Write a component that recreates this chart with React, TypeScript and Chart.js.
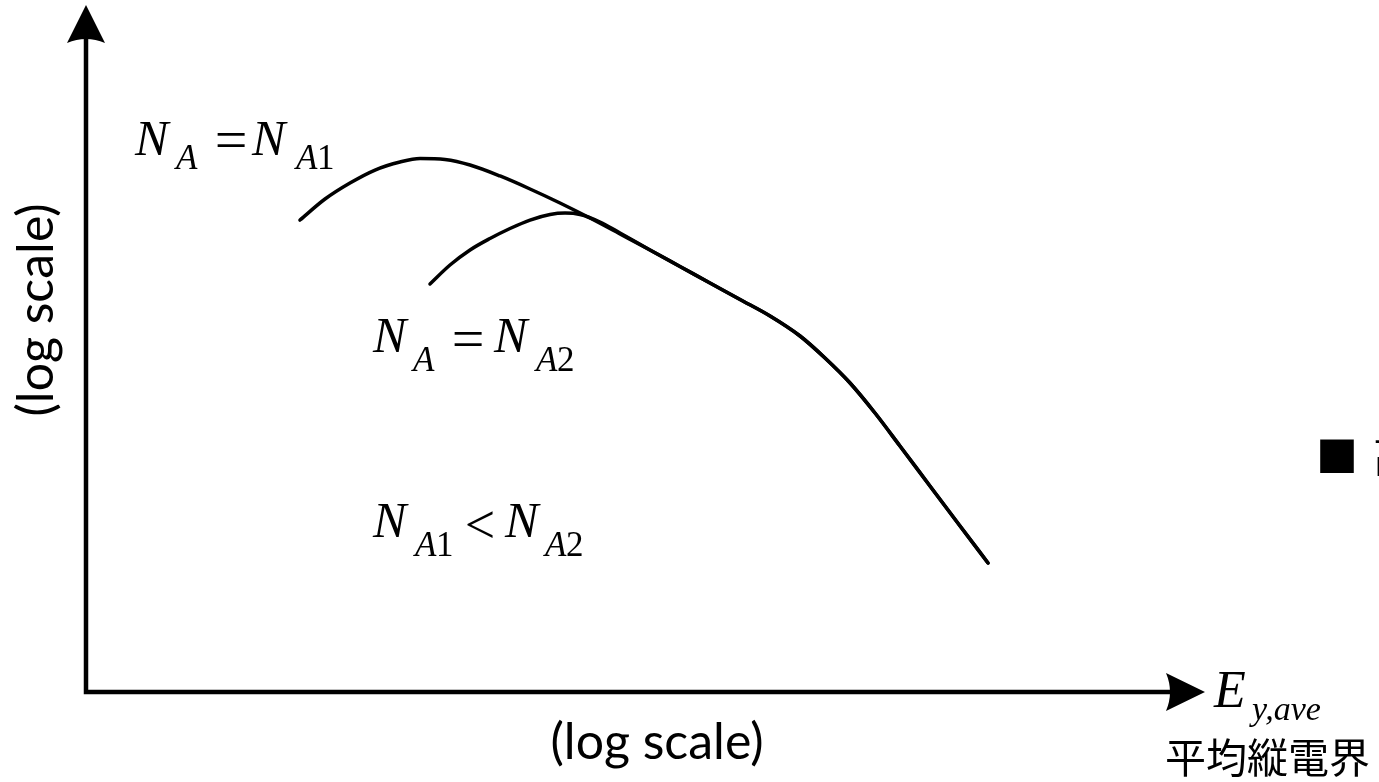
import React, { useEffect, useRef } from "react";
import { Chart, registerables } from "chart.js";

Chart.register(...registerables);

// Schematic units: both axes run 0..100 (log-scale sketch, no ticks)
const curveA1X = [
  19.12, 21.36, 23.59, 25.83, 28.06, 29.85, 32.08, 34.32, 37.0, 39.68, 42.36, 45.04, 47.72,
  50.4, 53.08, 55.76, 58.45, 61.13, 63.81, 66.04, 68.28, 70.51, 72.74, 75.42, 78.11, 80.61,
];
const curveA1Y = [
  68.7, 71.76, 74.09, 75.98, 77.15, 77.66, 77.51, 76.71, 75.11, 73.22, 71.18, 68.99, 66.67,
  64.34, 61.94, 59.53, 57.13, 54.73, 51.82, 48.62, 44.98, 40.61, 35.81, 29.99, 24.16, 18.78,
];

const curveA2X = [
  30.74, 32.53, 34.32, 36.1, 37.89, 39.68, 41.47, 42.81, 44.15, 45.93, 47.72, 50.4,
  53.08, 55.76, 58.45, 61.13, 63.81, 66.04, 68.28, 70.51, 72.74, 75.42, 78.11, 80.61,
];
const curveA2Y = [
  59.39, 62.15, 64.34, 66.01, 67.47, 68.7, 69.51, 69.72, 69.51, 68.41, 66.81, 64.34,
  61.94, 59.53, 57.13, 54.73, 51.82, 48.62, 44.98, 40.61, 35.81, 29.99, 24.16, 18.78,
];

const seriesLabels = ["N_A = N_A1", "N_A = N_A2"];
const xAxisTitle = "(log scale)";
const yAxisTitle = "(log scale)";
const xSymbolMain = "E";
const xSymbolSub = "y,ave";
const xAxisName = "平均縦電界";
const sideNote = "高";

const toPoints = (xs: number[], ys: number[]) => xs.map((x, i) => ({ x, y: ys[i] }));

type Seg = { t: string; font: string; x: number; y: number; center?: boolean };

const SERIF_I = (s: number) => `italic ${s}px 'Liberation Serif', 'Times New Roman', serif`;
const SERIF = (s: number) => `${s}px 'Liberation Serif', 'Times New Roman', serif`;

const drawSegs = (ctx: CanvasRenderingContext2D, segs: Seg[]) => {
  ctx.textBaseline = "alphabetic";
  for (const s of segs) {
    ctx.font = s.font;
    ctx.textAlign = s.center ? "center" : "left";
    ctx.fillText(s.t, s.x, s.y);
  }
};

const axesPlugin = {
  id: "arrowAxes",
  beforeDatasetsDraw(chart: any) {
    const { ctx, chartArea } = chart;
    const xs = chart.scales.x;
    const ys = chart.scales.y;
    const x0 = xs.getPixelForValue(0);
    const y0 = ys.getPixelForValue(0);
    const top = chartArea.top;
    const right = chartArea.right;
    ctx.save();
    ctx.strokeStyle = "#000";
    ctx.fillStyle = "#000";
    ctx.lineWidth = 4.5;
    ctx.lineCap = "butt";
    ctx.lineJoin = "miter";
    ctx.beginPath();
    ctx.moveTo(x0, top + 34);
    ctx.lineTo(x0, y0);
    ctx.lineTo(right - 34, y0);
    ctx.stroke();

    // vertical arrow head
    ctx.beginPath();
    ctx.moveTo(x0, top);
    ctx.lineTo(x0 + 19, top + 38);
    ctx.quadraticCurveTo(x0, top + 30, x0 - 19, top + 38);
    ctx.closePath();
    ctx.fill();

    // horizontal arrow head
    ctx.beginPath();
    ctx.moveTo(right, y0);
    ctx.lineTo(right - 39, y0 - 19);
    ctx.quadraticCurveTo(right - 31, y0, right - 39, y0 + 19);
    ctx.closePath();
    ctx.fill();
    ctx.restore();
  },
  afterDraw(chart: any) {
    const { ctx } = chart;
    ctx.save();
    ctx.fillStyle = "#000";

    // curve labels
    const big = SERIF_I(50);
    const op = SERIF(58);
    const sub = SERIF_I(35);
    const subUp = SERIF(35);
    drawSegs(ctx, [
      { t: "N", font: big, x: 135, y: 155 },
      { t: "A", font: sub, x: 176, y: 169 },
      { t: "=", font: op, x: 231, y: 159, center: true },
      { t: "N", font: big, x: 252, y: 155 },
      { t: "A", font: sub, x: 296, y: 169 },
      { t: "1", font: subUp, x: 317, y: 169 },
    ]);
    drawSegs(ctx, [
      { t: "N", font: big, x: 373, y: 352 },
      { t: "A", font: sub, x: 413, y: 371 },
      { t: "=", font: op, x: 468, y: 358, center: true },
      { t: "N", font: big, x: 494, y: 352 },
      { t: "A", font: sub, x: 536, y: 371 },
      { t: "2", font: subUp, x: 557, y: 371 },
    ]);
    drawSegs(ctx, [
      { t: "N", font: big, x: 373, y: 537 },
      { t: "A", font: sub, x: 415, y: 556 },
      { t: "1", font: subUp, x: 436, y: 556 },
      { t: "<", font: SERIF(54), x: 480, y: 543, center: true },
      { t: "N", font: big, x: 505, y: 537 },
      { t: "A", font: sub, x: 545, y: 556 },
      { t: "2", font: subUp, x: 566, y: 556 },
    ]);

    // x-axis symbol and name
    drawSegs(ctx, [
      { t: xSymbolMain, font: SERIF_I(52), x: 1214, y: 707 },
      { t: xSymbolSub, font: SERIF_I(34), x: 1252, y: 720 },
    ]);
    ctx.font = "400 41px 'Noto Sans CJK JP', sans-serif";
    ctx.textAlign = "left";
    ctx.textBaseline = "middle";
    ctx.fillText(xAxisName, 1165, 757);

    // side note
    ctx.font = "42px 'Noto Sans CJK JP', sans-serif";
    ctx.textAlign = "center";
    ctx.fillText("■", 1337, 456);
    ctx.textAlign = "left";
    ctx.fillText(sideNote, 1373, 456);

    // axis titles
    ctx.font = "50px Lato, 'Open Sans', sans-serif";
    ctx.textAlign = "center";
    ctx.textBaseline = "middle";
    ctx.fillText(xAxisTitle, 657, 743);
    ctx.translate(37, 310);
    ctx.rotate(-Math.PI / 2);
    ctx.fillText(yAxisTitle, 0, 0);
    ctx.restore();
  },
};

export default function App() {
  const canvasRef = useRef<HTMLCanvasElement | null>(null);

  useEffect(() => {
    if (!canvasRef.current) return;
    const lineStyle = {
      borderColor: "#000",
      borderWidth: 3.5,
      borderCapStyle: "round" as const,
      borderJoinStyle: "round" as const,
      pointRadius: 0,
      fill: false,
      cubicInterpolationMode: "monotone" as const,
    };
    const chart = new Chart(canvasRef.current, {
      type: "line",
      data: {
        datasets: [
          { label: seriesLabels[0], data: toPoints(curveA1X, curveA1Y), ...lineStyle },
          { label: seriesLabels[1], data: toPoints(curveA2X, curveA2Y), ...lineStyle },
        ],
      },
      options: {
        animation: false,
        responsive: true,
        maintainAspectRatio: false,
        layout: { padding: { left: 86, top: 5, right: 174, bottom: 90 } },
        plugins: { legend: { display: false }, tooltip: { enabled: false } },
        scales: {
          x: { type: "linear", min: 0, max: 100, display: false },
          y: { type: "linear", min: 0, max: 100, display: false },
        },
      },
      plugins: [axesPlugin],
    });
    return () => chart.destroy();
  }, []);

  return (
    <div style={{ position: "absolute", left: 0, top: 0, width: 1379, height: 782, background: "#fff" }}>
      <canvas ref={canvasRef} />
    </div>
  );
}
